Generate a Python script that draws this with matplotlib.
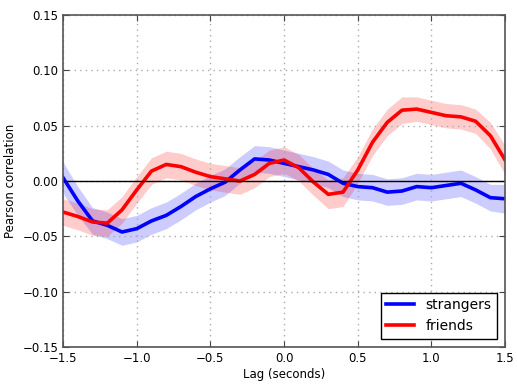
import matplotlib
matplotlib.use("Agg")
import matplotlib.pyplot as plt
import numpy as np

lags = [-1.5, -1.4, -1.3, -1.2, -1.1, -1.0, -0.9, -0.8, -0.7, -0.6, -0.5,
        -0.4, -0.3, -0.2, -0.1, 0.0, 0.1, 0.2, 0.3, 0.4, 0.5,
        0.6, 0.7, 0.8, 0.9, 1.0, 1.1, 1.2, 1.3, 1.4, 1.5]

strangers = [0.003, -0.018, -0.036, -0.040, -0.046, -0.043, -0.036, -0.031, -0.023, -0.014, -0.007,
             -0.001, 0.010, 0.020, 0.019, 0.016, 0.013, 0.010, 0.006, -0.002, -0.005,
             -0.006, -0.010, -0.009, -0.005, -0.006, -0.004, -0.002, -0.008, -0.015, -0.016]
strangers_err = [0.014, 0.013, 0.012, 0.012, 0.012, 0.012, 0.012, 0.012, 0.012, 0.012, 0.012,
                 0.012, 0.012, 0.012, 0.012, 0.012, 0.012, 0.012, 0.012, 0.012, 0.012,
                 0.012, 0.012, 0.012, 0.012, 0.012, 0.012, 0.012, 0.012, 0.012, 0.013]

friends = [-0.028, -0.032, -0.037, -0.038, -0.026, -0.008, 0.009, 0.015, 0.013, 0.008, 0.004,
           0.002, 0.000, 0.006, 0.016, 0.019, 0.012, -0.001, -0.012, -0.010, 0.010,
           0.035, 0.053, 0.064, 0.065, 0.062, 0.059, 0.058, 0.054, 0.041, 0.019]
friends_err = [0.012, 0.012, 0.012, 0.012, 0.012, 0.012, 0.012, 0.012, 0.012, 0.012, 0.012,
               0.012, 0.012, 0.012, 0.012, 0.012, 0.012, 0.012, 0.013, 0.013, 0.012,
               0.012, 0.012, 0.012, 0.011, 0.011, 0.011, 0.011, 0.011, 0.012, 0.013]

x_ticks = [-1.5, -1.0, -0.5, 0.0, 0.5, 1.0, 1.5]
y_ticks = [-0.15, -0.10, -0.05, 0.00, 0.05, 0.10, 0.15]

fig = plt.figure(figsize=(5.17, 3.84), dpi=100)
ax = fig.add_axes([0.122, 0.096, 0.855, 0.865])

lx = np.array(lags)
for vals, err, col, lab in [(strangers, strangers_err, "blue", "strangers"),
                            (friends, friends_err, "red", "friends")]:
    v = np.array(vals)
    e = np.array(err)
    ax.fill_between(lx, v - e, v + e, color=col, alpha=0.2, linewidth=0)
    ax.plot(lx, v, color=col, linewidth=2.6, label=lab)

ax.axhline(0, color="black", linewidth=1)
ax.set_xlim(-1.5, 1.5)
ax.set_ylim(-0.15, 0.15)
ax.set_xticks(x_ticks)
ax.set_yticks(y_ticks)
ax.set_xticklabels(["%.1f" % t if t >= 0 else "\u2212%.1f" % -t for t in x_ticks])
ax.set_yticklabels(["%.2f" % t if t >= 0 else "\u2212%.2f" % -t for t in y_ticks])
ax.grid(True, color="#aaaaaa", linestyle=(0, (1, 3)), linewidth=1)
ax.tick_params(direction="in", labelsize=8.5, length=4, color="#444444", top=True, right=True)
for s in ax.spines.values():
    s.set_color("#555555")
    s.set_linewidth(1.2)
ax.set_xlabel("Lag (seconds)", fontsize=8.5, labelpad=2)
ax.set_ylabel("Pearson correlation", fontsize=8.5)

leg = ax.legend(loc="lower right", fontsize=10, fancybox=False, edgecolor="black",
                framealpha=1, borderaxespad=0.6, handlelength=2)
leg.get_frame().set_linewidth(1)

fig.savefig("out.png", dpi=100)
